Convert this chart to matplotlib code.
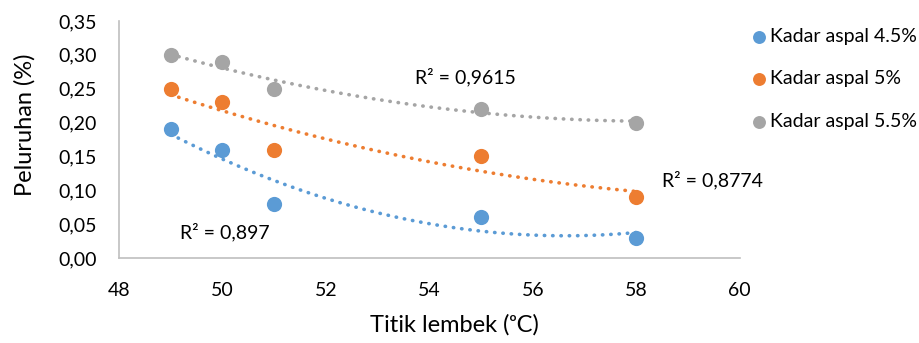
import numpy as np
import matplotlib.pyplot as plt

# data
titik_lembek = [49, 50, 51, 55, 58]
kadar_45 = [0.19, 0.16, 0.08, 0.06, 0.03]
kadar_5 = [0.25, 0.23, 0.16, 0.15, 0.09]
kadar_55 = [0.30, 0.29, 0.25, 0.22, 0.20]
labels = ["Kadar aspal 4.5%", "Kadar aspal 5%", "Kadar aspal 5.5%"]
r2_labels = ["R² = 0,897", "R² = 0,8774", "R² = 0,9615"]
r2_pos = [(49.18, 0.038), (58.5, 0.115), (53.72, 0.267)]

colors = ["#5B9BD5", "#ED7D31", "#A5A5A5"]

plt.rcParams["font.family"] = ["Lato", "DejaVu Sans"]

fig = plt.figure(figsize=(9.19, 3.43), dpi=100)
ax = fig.add_axes([0.1295, 0.248, 0.6755, 0.691])

x = np.array(titik_lembek)
xs = np.linspace(min(x), max(x), 200)
for y, c, lab in zip([kadar_45, kadar_5, kadar_55], colors, labels):
    # polynomial (order 2) trendline like the excel chart
    coef = np.polyfit(x, y, 2)
    ax.plot(xs, np.polyval(coef, xs), color=c, linestyle=(0, (0.1, 2.2)),
            linewidth=2.6, dash_capstyle="round", zorder=2)
    ax.scatter(x, y, s=120, color=c, label=lab, zorder=3, linewidths=0)

for txt, (px, py) in zip(r2_labels, r2_pos):
    ax.text(px, py, txt, fontsize=14, ha="left", va="center", color="#000000")

ax.set_xlim(48, 60)
ax.set_ylim(0, 0.35)
ax.set_xticks(range(48, 61, 2))
ax.set_yticks(np.arange(0, 0.351, 0.05))
ax.set_yticklabels([f"{v:.2f}".replace(".", ",") for v in np.arange(0, 0.351, 0.05)])
ax.tick_params(axis="both", length=0, labelsize=14)
ax.tick_params(axis="y", pad=16)
ax.tick_params(axis="x", pad=17)

for s in ["top", "right"]:
    ax.spines[s].set_visible(False)
for s in ["left", "bottom"]:
    ax.spines[s].set_color("#BFBFBF")
    ax.spines[s].set_linewidth(1.2)

ax.set_xlabel("Titik lembek (ᵒC)", fontsize=17, va="center")
ax.set_ylabel("Peluruhan (%)", fontsize=17, va="center")
ax.xaxis.set_label_coords(0.541, -0.283)
ax.yaxis.set_label_coords(-0.151, 0.561)

fig.legend(loc="upper left", bbox_to_anchor=(0.815, 0.918), frameon=False,
           fontsize=14, handletextpad=0.1, labelspacing=1.3,
           handlelength=1.0, markerscale=0.85, borderaxespad=0, borderpad=0)

plt.savefig("out.png", dpi=100)
